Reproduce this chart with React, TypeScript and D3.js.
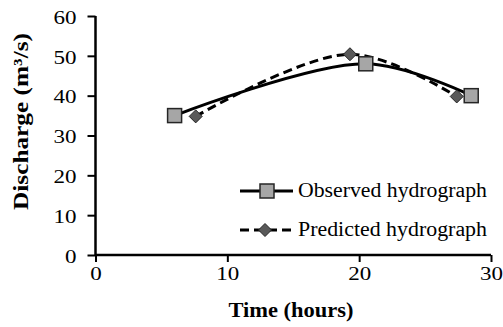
import * as d3 from "d3";
import React, { useEffect, useRef } from "react";

// observed hydrograph
const obsTime = [6, 20.5, 28.5];
const obsQ = [35, 48, 40];
// predicted hydrograph
const predTime = [7.6, 19.3, 27.4];
const predQ = [34.8, 50.4, 39.8];

const xTicks = [0, 10, 20, 30];
const yTicks = [0, 10, 20, 30, 40, 50, 60];

const App = () => {
  const svgRef = useRef<SVGSVGElement>(null);

  useEffect(() => {
    const svg = d3.select(svgRef.current);
    svg.selectAll("*").remove();

    const W = 503;
    const H = 327;
    const x = d3.scaleLinear().domain([0, 30]).range([95.5, 491]);
    const y = d3.scaleLinear().domain([0, 60]).range([255, 16]);
    const font = "'Liberation Serif', 'Times New Roman', serif";

    svg.attr("width", W).attr("height", H);

    // the original picture is a little stretched sideways, so text widths are forced
    const digitW = (s: string) => s.length * 11.5;

    // axes
    const gx = svg
      .append("g")
      .attr("transform", `translate(0,${y(0)})`)
      .call(d3.axisBottom(x).tickValues(xTicks).tickSize(7).tickFormat(d3.format("d")));
    gx.select(".domain").attr("stroke", "#000").attr("stroke-width", 2.5).attr("d", `M${x(0)},0H${x(30)}`);
    gx.selectAll(".tick line").attr("stroke", "#000").attr("stroke-width", 2);
    gx.selectAll<SVGTextElement, number>(".tick text")
      .attr("font-family", font)
      .attr("font-size", 19)
      .attr("fill", "#000")
      .attr("y", 25)
      .attr("dy", 0)
      .attr("textLength", (d) => digitW(String(d)))
      .attr("lengthAdjust", "spacingAndGlyphs");

    const gy = svg
      .append("g")
      .attr("transform", `translate(${x(0)},0)`)
      .call(d3.axisLeft(y).tickValues(yTicks).tickSize(8).tickFormat(d3.format("d")));
    gy.select(".domain").attr("stroke", "#000").attr("stroke-width", 2.5).attr("d", `M0,${y(0)}V${y(60)}`);
    gy.selectAll(".tick line").attr("stroke", "#000").attr("stroke-width", 2);
    gy.selectAll<SVGTextElement, number>(".tick text")
      .attr("font-family", font)
      .attr("font-size", 19)
      .attr("fill", "#000")
      .attr("x", -19)
      .attr("dy", "0.38em")
      .attr("textLength", (d) => digitW(String(d)))
      .attr("lengthAdjust", "spacingAndGlyphs");

    // axis titles
    svg
      .append("text")
      .attr("x", 291)
      .attr("y", 317)
      .attr("text-anchor", "middle")
      .attr("font-family", font)
      .attr("font-weight", "bold")
      .attr("font-size", 20)
      .attr("textLength", 125)
      .attr("lengthAdjust", "spacingAndGlyphs")
      .text("Time (hours)");

    svg
      .append("text")
      .attr("transform", `translate(28,121.5) rotate(-90)`)
      .attr("text-anchor", "middle")
      .attr("font-family", font)
      .attr("font-weight", "bold")
      .attr("font-size", 21)
      .attr("textLength", 177)
      .attr("lengthAdjust", "spacingAndGlyphs")
      .text("Discharge (m³/s)");

    const obsPts = obsTime.map((t, i) => [x(t), y(obsQ[i])] as [number, number]);
    const predPts = predTime.map((t, i) => [x(t), y(predQ[i])] as [number, number]);
    const lineGen = d3.line().curve(d3.curveCatmullRom.alpha(0.5));

    svg
      .append("path")
      .attr("d", lineGen(predPts))
      .attr("fill", "none")
      .attr("stroke", "#000")
      .attr("stroke-width", 3)
      .attr("stroke-dasharray", "9,5");

    svg
      .append("path")
      .attr("d", lineGen(obsPts))
      .attr("fill", "none")
      .attr("stroke", "#000")
      .attr("stroke-width", 3);

    const square = (g: any, cx: number, cy: number) =>
      g
        .append("rect")
        .attr("x", cx - 7)
        .attr("y", cy - 7)
        .attr("width", 14)
        .attr("height", 14)
        .attr("fill", "#a6a6a6")
        .attr("stroke", "#262626")
        .attr("stroke-width", 1.5);

    const diamond = (g: any, cx: number, cy: number) =>
      g
        .append("path")
        .attr("d", `M${cx},${cy - 6.5}L${cx + 6.5},${cy}L${cx},${cy + 6.5}L${cx - 6.5},${cy}Z`)
        .attr("fill", "#595959")
        .attr("stroke", "#262626")
        .attr("stroke-width", 1);

    predPts.forEach(([cx, cy]) => diamond(svg, cx, cy));
    obsPts.forEach(([cx, cy]) => square(svg, cx, cy));

    // legend
    const legend = svg.append("g");
    const items = [
      { label: "Observed hydrograph", yPos: 191, dash: null, marker: square, cx: 267 },
      { label: "Predicted hydrograph", yPos: 230, dash: "9,5", marker: diamond, cx: 265 },
    ];
    items.forEach((it) => {
      legend
        .append("line")
        .attr("x1", 240)
        .attr("x2", 293)
        .attr("y1", it.yPos)
        .attr("y2", it.yPos)
        .attr("stroke", "#000")
        .attr("stroke-width", 3)
        .attr("stroke-dasharray", it.dash);
      it.marker(legend, it.cx, it.yPos);
      legend
        .append("text")
        .attr("x", 298)
        .attr("y", it.yPos + 6)
        .attr("font-family", font)
        .attr("font-size", 20)
        .attr("textLength", 189)
        .attr("lengthAdjust", "spacingAndGlyphs")
        .text(it.label);
    });
  }, []);

  return <svg ref={svgRef} style={{ position: "absolute", left: 0, top: 0 }}></svg>;
};

export default App;
